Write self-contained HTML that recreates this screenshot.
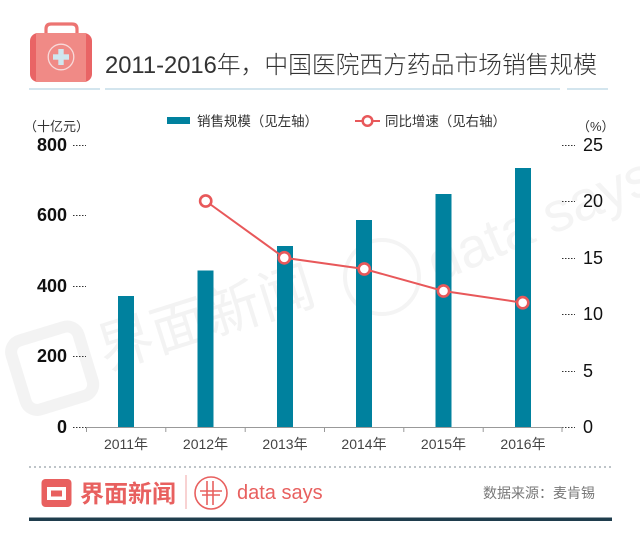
<!DOCTYPE html>
<html><head><meta charset="utf-8"><style>
html,body{margin:0;padding:0;background:#fff;}
svg{display:block;}
</style></head><body>
<svg width="640" height="535" viewBox="0 0 640 535" xmlns="http://www.w3.org/2000/svg">
<rect width="640" height="535" fill="#fff"/>
<!-- watermarks -->
<g>
  <g transform="rotate(-17 60 370)">
    <rect x="18" y="330" width="70" height="72" rx="12" fill="none" stroke="#f3f3f3" stroke-width="12"/>
  </g>
  <text x="105" y="370" transform="rotate(-17.5 105 370)" font-family="'Liberation Sans','Noto Sans CJK SC',sans-serif" font-size="56" fill="#f3f3f3">界面新闻</text>
  <circle cx="382" cy="277" r="37" fill="none" stroke="#f4f4f4" stroke-width="4"/>
  <text x="437" y="283" transform="rotate(-22.8 437 283)" font-family="'Liberation Sans',sans-serif" font-size="56" fill="#f4f4f4">data says</text>
</g>

<!-- icon -->
<path d="M46 34 L46 29 Q46 24 51 24 L72 24 Q77 24 77 29 L77 34" fill="none" stroke="#ec7472" stroke-width="3.2"/>
<rect x="30" y="33" width="62" height="49" rx="8" fill="#e96465"/>
<rect x="36" y="33" width="50" height="49" fill="#f08a86"/>
<circle cx="61" cy="57" r="12.8" fill="#f08a86" stroke="#f8dada" stroke-width="1.3"/>
<rect x="58.3" y="49" width="5.4" height="16" fill="#cfe7ef"/>
<rect x="53" y="54.3" width="16" height="5.4" fill="#cfe7ef"/>

<!-- title -->
<text x="105" y="73" font-family="'Liberation Sans','Noto Sans CJK SC',sans-serif" font-size="24" font-weight="300" fill="#333" textLength="492" lengthAdjust="spacingAndGlyphs">2011-2016年，中国医院西方药品市场销售规模</text>

<!-- separators -->
<rect x="29" y="88" width="71" height="2" fill="#d3e5ee"/>
<rect x="105" y="88" width="455" height="2" fill="#d3e5ee"/>
<rect x="567" y="88" width="41" height="2" fill="#d3e5ee"/>

<!-- legend -->
<rect x="167" y="117" width="23" height="7" fill="#00819e"/>
<text x="197" y="126" font-family="'Liberation Sans','Noto Sans CJK SC',sans-serif" font-size="13.5" fill="#333" textLength="121" lengthAdjust="spacing">销售规模（见左轴）</text>
<line x1="355" y1="121" x2="380" y2="121" stroke="#e8585a" stroke-width="2"/>
<circle cx="367.5" cy="121" r="4.8" fill="#fff" stroke="#e8585a" stroke-width="2.5"/>
<text x="385" y="126" font-family="'Liberation Sans','Noto Sans CJK SC',sans-serif" font-size="13.5" fill="#333" textLength="121" lengthAdjust="spacing">同比增速（见右轴）</text>

<text x="24" y="131" font-family="'Liberation Sans','Noto Sans CJK SC',sans-serif" font-size="13" fill="#333">（十亿元）</text>
<text x="577" y="131" font-family="'Liberation Sans','Noto Sans CJK SC',sans-serif" font-size="13" fill="#333">（%）</text>

<!-- left axis -->
<g font-family="'Liberation Sans',sans-serif" font-size="18" font-weight="bold" fill="#111" text-anchor="end">
  <text x="67" y="151">800</text>
  <text x="67" y="221">600</text>
  <text x="67" y="292">400</text>
  <text x="67" y="362">200</text>
  <text x="67" y="433">0</text>
</g>
<g stroke="#333" stroke-width="1" stroke-dasharray="1.5,1.5">
  <line x1="73" y1="145.5" x2="86" y2="145.5"/>
  <line x1="73" y1="215.5" x2="86" y2="215.5"/>
  <line x1="73" y1="286.5" x2="86" y2="286.5"/>
  <line x1="73" y1="356.5" x2="86" y2="356.5"/>
  <line x1="73" y1="427.5" x2="86" y2="427.5"/>
  <line x1="562" y1="145.5" x2="575" y2="145.5"/>
  <line x1="562" y1="201.5" x2="575" y2="201.5"/>
  <line x1="562" y1="258.5" x2="575" y2="258.5"/>
  <line x1="562" y1="314.5" x2="575" y2="314.5"/>
  <line x1="562" y1="371.5" x2="575" y2="371.5"/>
  <line x1="562" y1="427.5" x2="575" y2="427.5"/>
</g>
<!-- right axis -->
<g font-family="'Liberation Sans',sans-serif" font-size="18" fill="#111">
  <text x="583" y="151">25</text>
  <text x="583" y="207">20</text>
  <text x="583" y="264">15</text>
  <text x="583" y="320">10</text>
  <text x="583" y="377">5</text>
  <text x="583" y="433">0</text>
</g>

<!-- bars -->
<g fill="#00819e">
  <rect x="118" y="296" width="16" height="131"/>
  <rect x="197.5" y="270.5" width="16" height="156.5"/>
  <rect x="277" y="246" width="16" height="181"/>
  <rect x="356" y="220" width="16" height="207"/>
  <rect x="435.5" y="194" width="16" height="233"/>
  <rect x="515" y="168" width="16" height="259"/>
</g>

<!-- x axis -->
<line x1="86" y1="427.5" x2="562" y2="427.5" stroke="#999" stroke-width="1"/>
<g stroke="#999" stroke-width="1">
  <line x1="86.5" y1="427" x2="86.5" y2="432"/>
  <line x1="165.8" y1="427" x2="165.8" y2="432"/>
  <line x1="245.2" y1="427" x2="245.2" y2="432"/>
  <line x1="324.5" y1="427" x2="324.5" y2="432"/>
  <line x1="403.8" y1="427" x2="403.8" y2="432"/>
  <line x1="483.2" y1="427" x2="483.2" y2="432"/>
  <line x1="562" y1="427" x2="562" y2="432"/>
</g>
<g font-family="'Liberation Sans','Noto Sans CJK SC',sans-serif" font-size="14" fill="#444" text-anchor="middle">
  <text x="126" y="449">2011年</text>
  <text x="205.5" y="449">2012年</text>
  <text x="285" y="449">2013年</text>
  <text x="364" y="449">2014年</text>
  <text x="443.5" y="449">2015年</text>
  <text x="523" y="449">2016年</text>
</g>

<!-- line -->
<polyline points="205.7,201 284.3,257.8 364.3,269 443.5,291 522.7,302.7" fill="none" stroke="#e8585a" stroke-width="2"/>
<g fill="#fff" stroke="#e8585a" stroke-width="2.6">
  <circle cx="205.7" cy="201" r="5.6"/>
  <circle cx="284.3" cy="257.8" r="5.6"/>
  <circle cx="364.3" cy="269" r="5.6"/>
  <circle cx="443.5" cy="291" r="5.6"/>
  <circle cx="522.7" cy="302.7" r="5.6"/>
</g>

<!-- footer -->
<line x1="29" y1="467" x2="612" y2="467" stroke="#a9b0b5" stroke-width="1.5" stroke-dasharray="2,3"/>
<rect x="41.5" y="479" width="30" height="28" rx="4" fill="#e8605f"/>
<path d="M47 487 L66 487 L66 500 L47 500 Z M51 490.5 L51 496.5 L62 496.5 L62 490.5 Z" fill="#fff" fill-rule="evenodd"/>
<text x="80" y="502" font-family="'Liberation Sans','Noto Sans CJK SC',sans-serif" font-size="24" font-weight="bold" fill="#e8605f">界面新闻</text>
<line x1="186" y1="475" x2="186" y2="509" stroke="#f0a6a4" stroke-width="1"/>
<circle cx="211" cy="493" r="16" fill="none" stroke="#e8605f" stroke-width="1.6"/>
<g stroke="#e8605f" stroke-width="1.6">
  <line x1="207" y1="481" x2="207" y2="505"/>
  <line x1="213" y1="481" x2="213" y2="505"/>
  <line x1="200" y1="491" x2="222" y2="491"/>
  <line x1="202" y1="495" x2="220" y2="495"/>
</g>
<text x="237" y="499" font-family="'Liberation Sans',sans-serif" font-size="20" fill="#e8605f">data says</text>
<text x="483" y="498" font-family="'Liberation Sans','Noto Sans CJK SC',sans-serif" font-size="14" fill="#777">数据来源：麦肯锡</text>
<rect x="29" y="517.5" width="583" height="3.5" fill="#1f3d4d"/>
</svg>
</body></html>
